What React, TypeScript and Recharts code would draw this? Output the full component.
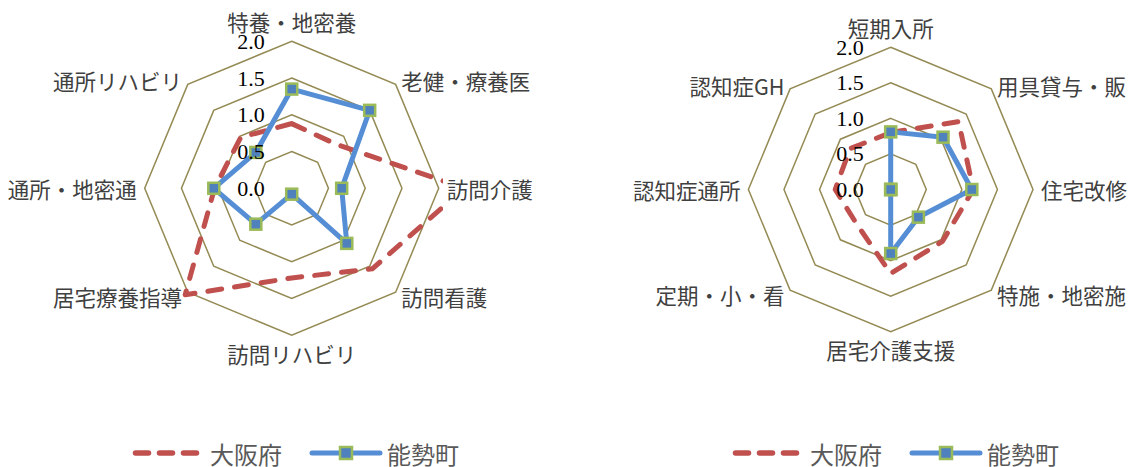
import React from "react";
import { RadarChart, Radar, PolarGrid, PolarAngleAxis, PolarRadiusAxis } from "recharts";

// left chart
const leftCategories = ["特養・地密養", "老健・療養医", "訪問介護", "訪問看護", "訪問リハビリ", "居宅療養指導", "通所・地密通", "通所リハビリ"];
const leftOsaka = [0.88, 0.85, 2.35, 1.55, 1.22, 2.05, 1.05, 0.98];
const leftNose = [1.35, 1.5, 0.68, 1.06, 0.08, 0.69, 1.06, 0.69];

// right chart
const rightCategories = ["短期入所", "用具貸与・販", "住宅改修", "特施・地密施", "居宅介護支援", "定期・小・看", "認知症通所", "認知症GH"];
const rightOsaka = [0.8, 1.35, 1.16, 1.03, 1.18, 0.68, 0.78, 0.81];
const rightNose = [0.81, 1.04, 1.14, 0.55, 0.9, 0, 0, 0];

const seriesNames = ["大阪府", "能勢町"];
const radiusDomain = [0, 2];
const radiusTicks = [0, 0.5, 1, 1.5, 2];

const RED = "#C0504D";
const BLUE = "#558ED5";
const MARKER_FILL = "#4F81BD";
const MARKER_EDGE = "#9BBB59";
const GRID = "#948A54";
const JP_FONT = "'Noto Sans CJK JP', 'Noto Sans', sans-serif";

const buildRows = (cats: string[], osaka: number[], nose: number[]) =>
  cats.map((name, i) => ({ name, osaka: osaka[i], nose: nose[i] }));

const leftData = buildRows(leftCategories, leftOsaka, leftNose);
const rightData = buildRows(rightCategories, rightOsaka, rightNose);

const AngleTick = (props: any) => {
  const { x, y, payload, textAnchor } = props;
  const rad = (payload.coordinate * Math.PI) / 180;
  const c = Math.cos(rad);
  const s = Math.sin(rad);
  let dy = 0;
  if (Math.abs(c) < 1e-5) dy = s > 0 ? -12 : 10;
  else if (s > 0.5) dy = 2;
  else if (s < -0.5) dy = -1;
  return (
    <text
      x={x}
      y={y + dy}
      textAnchor={textAnchor}
      dominantBaseline="central"
      fontFamily={JP_FONT}
      fontSize={21.5}
      fill="#404040"
    >
      {payload.value}
    </text>
  );
};

const RadiusTick = (props: any) => {
  const { x, y, payload } = props;
  return (
    <text
      x={x - 27}
      y={y}
      textAnchor="end"
      dominantBaseline="central"
      fontFamily="'Liberation Serif', 'DejaVu Serif', serif"
      fontSize={22}
      fill="#000"
    >
      {Number(payload.value).toFixed(1)}
    </text>
  );
};

const SquareDot = (props: any) => {
  const { cx, cy, index } = props;
  return (
    <rect
      key={`sq-${index}-${cx}`}
      x={cx - 5.5}
      y={cy - 5.5}
      width={11}
      height={11}
      fill={MARKER_FILL}
      stroke={MARKER_EDGE}
      strokeWidth={2.5}
    />
  );
};

type ChartProps = {
  data: any[];
  left: number;
  width: number;
  cx: number;
  cy: number;
  r: number;
  cls: string;
};

const Spider = ({ data, left, width, cx, cy, r, cls }: ChartProps) => (
  <>
    <div className={cls} style={{ position: "absolute", left, top: 0 }}>
      <RadarChart
        width={width}
        height={400}
        data={data}
        cx={cx}
        cy={cy}
        outerRadius={r}
        margin={{ top: 0, right: 0, bottom: 0, left: 0 }}
      >
        <PolarGrid gridType="polygon" radialLines={false} stroke={GRID} strokeWidth={1.5} />
        <PolarAngleAxis dataKey="name" tick={AngleTick} tickLine={false} axisLine={false} />
        <PolarRadiusAxis
          angle={90}
          domain={radiusDomain}
          ticks={radiusTicks}
          allowDataOverflow
          axisLine={false}
          tickLine={false}
          tick={false}
        />
        <Radar
          name={seriesNames[0]}
          dataKey="osaka"
          stroke={RED}
          strokeWidth={5}
          strokeDasharray="14 13"
          strokeLinecap="round"
          strokeLinejoin="round"
          fill="none"
          fillOpacity={0}
          dot={false}
          isAnimationActive={false}
        />
        <Radar
          name={seriesNames[1]}
          dataKey="nose"
          stroke={BLUE}
          strokeWidth={5}
          strokeLinejoin="round"
          fill="none"
          fillOpacity={0}
          dot={SquareDot}
          isAnimationActive={false}
        />
      </RadarChart>
    </div>
    {/* value labels drawn on top of the series, as in the original */}
    <div style={{ position: "absolute", left, top: 0, pointerEvents: "none" }}>
      <RadarChart
        width={width}
        height={400}
        data={data}
        cx={cx}
        cy={cy}
        outerRadius={r}
        margin={{ top: 0, right: 0, bottom: 0, left: 0 }}
      >
        <PolarAngleAxis dataKey="name" tick={false} tickLine={false} axisLine={false} />
        <PolarRadiusAxis
          angle={90}
          domain={radiusDomain}
          ticks={radiusTicks}
          allowDataOverflow
          axisLine={false}
          tickLine={false}
          tick={RadiusTick}
        />
      </RadarChart>
    </div>
  </>
);

const LegendRow = ({ dx }: { dx: number }) => (
  <g transform={`translate(${dx},0)`}>
    <path d="M135.5,453 H196.5" stroke={RED} strokeWidth={5.5} strokeDasharray="13 11" strokeLinecap="round" />
    <text x={210} y={453} dominantBaseline="central" fontFamily={JP_FONT} fontSize={24} fill="#595959">
      {seriesNames[0]}
    </text>
    <path d="M312,453 H380" stroke={BLUE} strokeWidth={5} strokeLinecap="round" />
    <rect x={340} y={447} width={12} height={12} fill={MARKER_FILL} stroke={MARKER_EDGE} strokeWidth={2.5} />
    <text x={387} y={453} dominantBaseline="central" fontFamily={JP_FONT} fontSize={24} fill="#595959">
      {seriesNames[1]}
    </text>
  </g>
);

export default function App() {
  return (
    <div style={{ position: "absolute", left: 0, top: 0, width: 1129, height: 467, background: "#fff", overflow: "hidden" }}>
      <style>{`.left-spider .recharts-radar { clip-path: url(#clipLeftPlot); }`}</style>
      <svg width={1129} height={467} style={{ position: "absolute", left: 0, top: 0 }}>
        <defs>
          <clipPath id="clipLeftPlot">
            <rect x={0} y={0} width={443} height={467} />
          </clipPath>
        </defs>
        <LegendRow dx={0} />
        <LegendRow dx={600} />
      </svg>
      <Spider data={leftData} left={0} width={565} cx={291.7} cy={188.3} r={147} cls="left-spider" />
      <Spider data={rightData} left={565} width={564} cx={325.7} cy={189.5} r={142.3} cls="right-spider" />
    </div>
  );
}
